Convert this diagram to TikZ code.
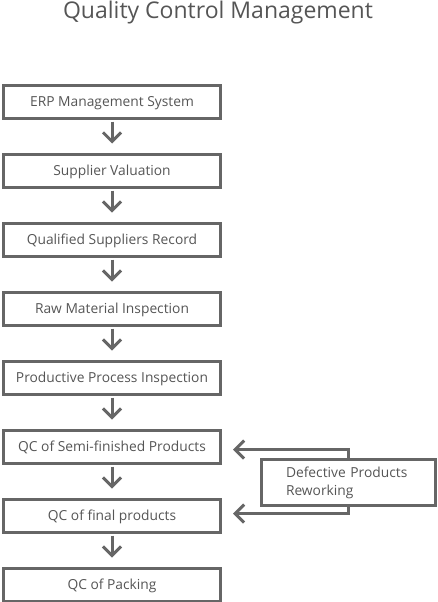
\documentclass[tikz,border=0pt]{standalone}
\usepackage{fontspec}
\setmainfont{Open Sans}
\usepackage{tikz}
\usetikzlibrary{arrows.meta, positioning}
\definecolor{qcgray}{HTML}{666666}
\definecolor{qctext}{HTML}{555555}

\begin{document}
\begin{tikzpicture}[x=1pt, y=1pt, node distance=33pt,
  block/.style={rectangle, draw=qcgray, line width=3pt, minimum width=217pt, minimum height=33pt, text height=10pt, text depth=0pt, font=\fontsize{13.8}{18}\selectfont, text=qctext, align=center},
  sideblock/.style={rectangle, draw=qcgray, line width=3pt, text width=125pt, inner xsep=24.5pt, minimum height=46pt, font=\fontsize{13.8}{18}\selectfont, text=qctext, align=left},
  arrow/.style={-{Straight Barb[length=9pt, width=18pt]}, line width=3pt, draw=qcgray, shorten <=2pt, shorten >=9pt}]
\useasboundingbox (0,0) rectangle (437,-602);

\node[font=\fontsize{23}{28}\selectfont, text=qctext] (title) at (218,-13) {Quality Control Management};

\node[block] (erp) at (112,-101.5) {ERP Management System};
\node[block, below=of erp] (valuation) {Supplier Valuation};
\node[block, below=of valuation] (record) {Qualified Suppliers Record};
\node[block, below=of record] (raw) {Raw Material Inspection};
\node[block, below=of raw] (process) {Productive Process Inspection};
\node[block, below=of process] (semi) {QC of Semi-finished Products};
\node[block, below=of semi] (final) {QC of final products};
\node[block, below=of final] (packing) {QC of Packing};
\draw[arrow] (erp) -- (valuation);
\draw[arrow] (valuation) -- (record);
\draw[arrow] (record) -- (raw);
\draw[arrow] (raw) -- (process);
\draw[arrow] (process) -- (semi);
\draw[arrow] (semi) -- (final);
\draw[arrow] (final) -- (packing);

\node[sideblock] (rework) at (348.5,-482.5) {Defective Products Reworking};
\draw[arrow, shorten <=0pt, shorten >=0pt] (rework.north) |- ([xshift=11pt, yshift=-3pt]semi.east);
\draw[arrow, shorten <=0pt, shorten >=0pt] (rework.south) |- ([xshift=11pt, yshift=2pt]final.east);
\end{tikzpicture}
\end{document}
